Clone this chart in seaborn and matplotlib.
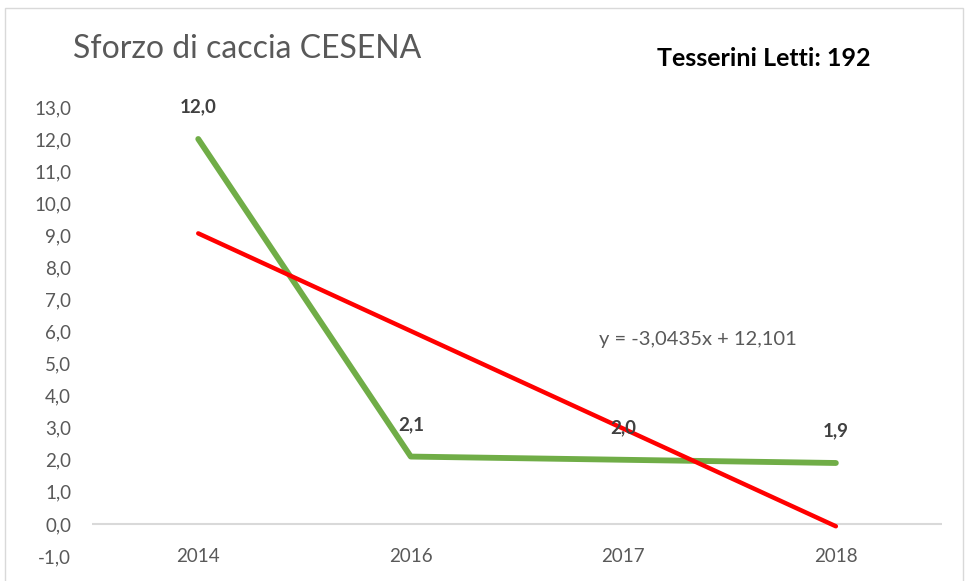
import numpy as np
import pandas as pd
import matplotlib
matplotlib.use("Agg")
import matplotlib.pyplot as plt
import seaborn as sns
from matplotlib.patches import Rectangle

# Data
years = ["2014", "2016", "2017", "2018"]
values = [12.0, 2.1, 2.0, 1.9]
trend_slope = -3.0435
trend_intercept = 12.101
y_ticks = list(range(-1, 14))

df = pd.DataFrame({"pos": np.arange(len(years)), "year": years, "value": values})
df["trend"] = trend_slope * (df["pos"] + 1) + trend_intercept

sns.set_style("white")
plt.rcParams["font.family"] = ["Lato", "DejaVu Sans"]

fig = plt.figure(figsize=(9.65, 5.81), dpi=100)
ax = fig.add_axes([0.0953, 0.043, 0.881, 0.773])

sns.lineplot(data=df, x="pos", y="value", color="#70AD47", linewidth=4.2, ax=ax,
             solid_capstyle="round")
sns.lineplot(data=df, x="pos", y="trend", color="#FF0000", linewidth=3.2, ax=ax,
             solid_capstyle="round")

# data labels
for p, v in zip(df["pos"], df["value"]):
    ax.annotate(f"{v:.1f}".replace(".", ","), (p, v), xytext=(0, 23),
                textcoords="offset points", ha="center", va="center",
                fontsize=13.5, fontweight="bold", color="#404040")

ax.set_xlim(-0.5, len(years) - 0.5)
ax.set_ylim(-1, 13)
ax.set_xticks(df["pos"])
ax.set_xticklabels(years)
ax.set_yticks(y_ticks)
ax.set_yticklabels([f"{t:.1f}".replace(".", ",") for t in y_ticks])
ax.tick_params(axis="both", length=0, labelsize=13.5, labelcolor="#595959")
ax.tick_params(axis="y", pad=15)
ax.tick_params(axis="x", pad=-6)
ax.set_xlabel("")
ax.set_ylabel("")
for s in ax.spines.values():
    s.set_visible(False)
ax.axhline(0, color="#D9D9D9", linewidth=1.5, zorder=0)

eq = f"y = {trend_slope:.4f}x + {trend_intercept:.3f}".replace(".", ",")
ax.text(2.35, 5.74, eq, fontsize=14.5, color="#595959", ha="center", va="center")

fig.text(0.0757, 0.915, "Sforzo di caccia CESENA", fontsize=23, color="#595959",
         ha="left", va="center")
fig.text(0.791, 0.9, "Tesserini Letti: 192", fontsize=18, fontweight="bold",
         color="black", ha="center", va="center")

fig.patches.append(Rectangle((5 / 965, -0.01), 958 / 965, 1 - 8 / 581 + 0.01,
                             transform=fig.transFigure, fill=False,
                             edgecolor="#D9D9D9", linewidth=1))

fig.savefig("out.png", dpi=100)
